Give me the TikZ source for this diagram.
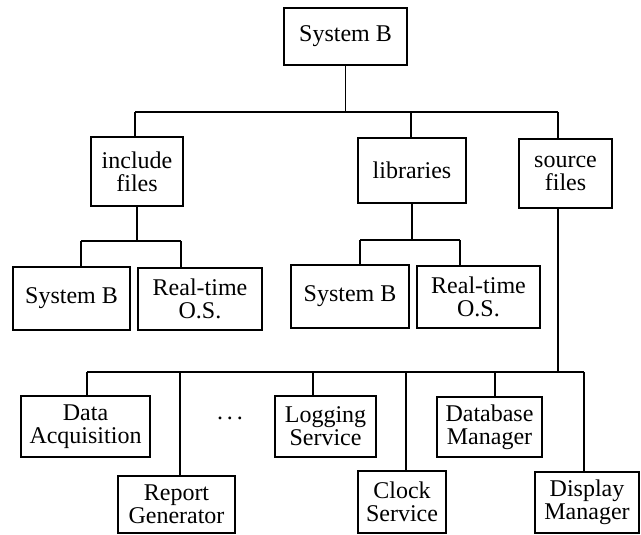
\documentclass[tikz,border=0pt]{standalone}
\usepackage{fontspec}
\setmainfont{Liberation Serif}
\usepackage{tikz}

\begin{document}
\begin{tikzpicture}[%
      x=1pt, y=-1pt,
      line width=1.3pt,
      box/.style={draw, align=center, inner sep=0pt,
        font=\fontsize{24}{23}\selectfont},
      ]
      \useasboundingbox (0,0) rectangle (641,535);

      \node [box, minimum width=123pt, minimum height=57pt] (sysb) at (345.5,36.5) {System B};

      \node [box, minimum width=92pt, minimum height=69pt] (incl) at (137,171.5) {include\\files};
      \node [box, minimum width=108pt, minimum height=65pt] (libs) at (412,170.5) {libraries};
      \node [box, minimum width=93pt, minimum height=69pt] (srcs) at (565.5,173.5) {source\\files};

      \node [box, minimum width=117pt, minimum height=63pt] (inclsys) at (71.5,298.5) {System B};
      \node [box, minimum width=124pt, minimum height=62pt] (inclrt) at (200,299) {Real-time\\O.S.};
      \node [box, minimum width=118pt, minimum height=63pt] (libsys) at (350,296.5) {System B};
      \node [box, minimum width=123pt, minimum height=62pt] (librt) at (478.5,297) {Real-time\\O.S.};

      \node [box, minimum width=129pt, minimum height=61pt] (daq) at (85.5,426.5) {Data\\Acquisition};
      \node [box, minimum width=117pt, minimum height=57pt] (repgen) at (176.5,504.5) {Report\\Generator};
      \node [font=\fontsize{24}{23}\selectfont, inner sep=0pt] (dots) at (230,418) {.\hspace{4pt}.\hspace{4pt}.};
      \node [box, minimum width=101pt, minimum height=61pt] (logsvc) at (325.5,426.5) {Logging\\Service};
      \node [box, minimum width=88pt, minimum height=62pt] (clksvc) at (402,502) {Clock\\Service};
      \node [box, minimum width=105pt, minimum height=60pt] (dbmgr) at (489.5,427) {Database\\Manager};
      \node [box, minimum width=104pt, minimum height=61pt] (dispmgr) at (587,502.5) {Display\\Manager};

      \coordinate (topw) at (135,112);
      \coordinate (tope) at (558,112);
      \coordinate (topl) at (411,112);
      \coordinate (inclw) at (81,241);
      \coordinate (incle) at (181,241);
      \coordinate (libw) at (360,240);
      \coordinate (libe) at (460,240);
      \coordinate (srcw) at (87,372);
      \coordinate (srce) at (584,372);
      \coordinate (srcrep) at (180,372);
      \coordinate (srclog) at (313,372);
      \coordinate (srcclk) at (406,372);
      \coordinate (srcdb) at (495,372);
      \coordinate (srcsrc) at (558,372);

      \draw (sysb.south) -- (sysb.south|-topw);
      \draw (topw) -- (tope);
      \draw (topw) -- (topw|-incl.north);
      \draw (topl) -- (topl|-libs.north);
      \draw (tope) -- (tope|-srcs.north);

      \draw (incl.south) -- (incl.south|-inclw);
      \draw (inclw) -- (incle);
      \draw (inclw) -- (inclw|-inclsys.north);
      \draw (incle) -- (incle|-inclrt.north);

      \draw (libs.south) -- (libs.south|-libw);
      \draw (libw) -- (libe);
      \draw (libw) -- (libw|-libsys.north);
      \draw (libe) -- (libe|-librt.north);

      \draw (srcsrc|-srcs.south) -- (srcsrc);
      \draw (srcw) -- (srce);
      \draw (srcw) -- (srcw|-daq.north);
      \draw (srcrep) -- (srcrep|-repgen.north);
      \draw (srclog) -- (srclog|-logsvc.north);
      \draw (srcclk) -- (srcclk|-clksvc.north);
      \draw (srcdb) -- (srcdb|-dbmgr.north);
      \draw (srce) -- (srce|-dispmgr.north);
      \end{tikzpicture}
\end{document}
